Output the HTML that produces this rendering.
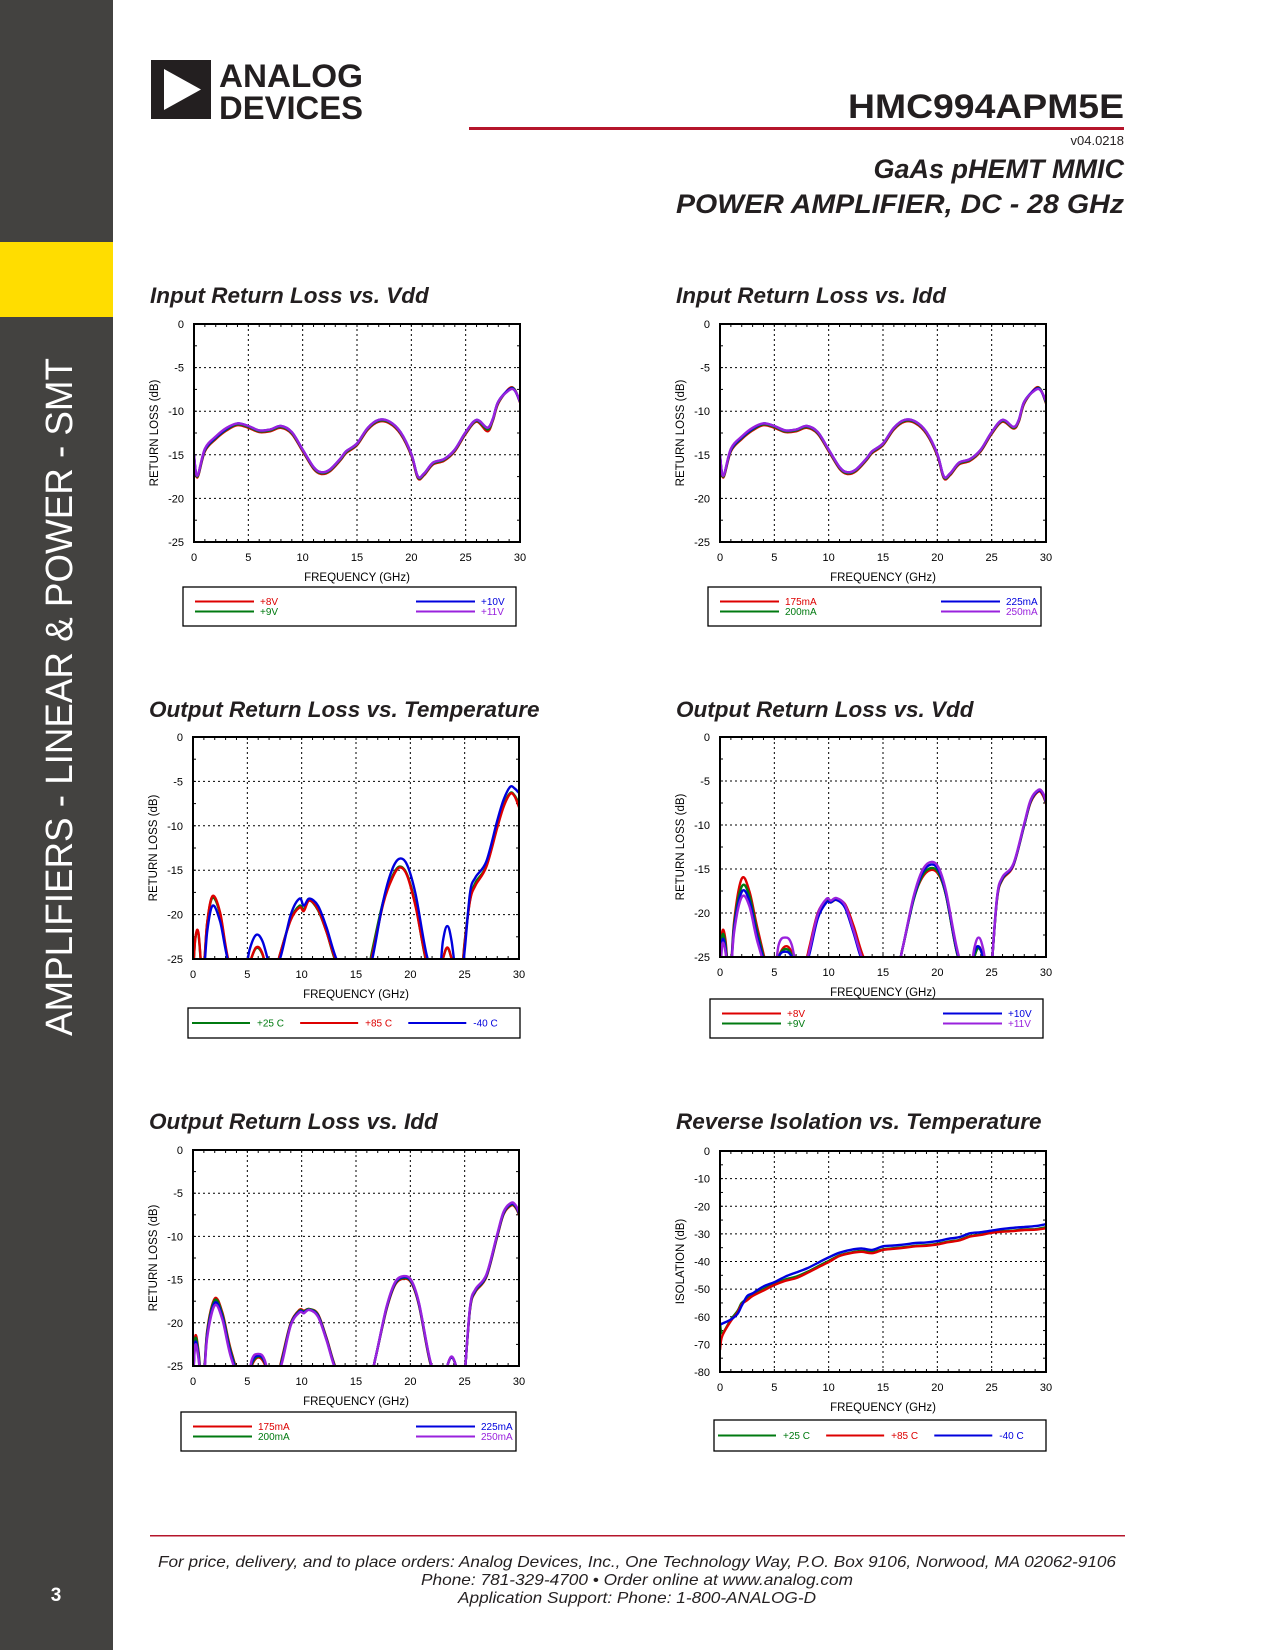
<!DOCTYPE html>
<html><head><meta charset="utf-8"><title>HMC994APM5E</title>
<style>
html,body{margin:0;padding:0;background:#fff;}
body{width:1275px;height:1650px;position:relative;overflow:hidden;font-family:"Liberation Sans",sans-serif;}
svg{position:absolute;left:0;top:0;}
</style></head>
<body>
<svg id="page" width="1275" height="1650" viewBox="0 0 1275 1650" xmlns="http://www.w3.org/2000/svg">
<rect x="0" y="0" width="113" height="1650" fill="#434240"/>
<rect x="0" y="242" width="113" height="75" fill="#ffdd00"/>
<text transform="translate(72,1036) rotate(-90)" font-family="Liberation Sans" font-size="38" fill="#fff" textLength="678" lengthAdjust="spacingAndGlyphs">AMPLIFIERS - LINEAR &amp; POWER - SMT</text>
<text x="56" y="1601" font-family="Liberation Sans" font-size="19" font-weight="bold" fill="#fff" text-anchor="middle">3</text>
<g>
<rect x="151" y="60" width="60" height="59" fill="#231f20"/>
<polygon points="164,69 164,110 201,89.5" fill="#fff"/>
<text x="219" y="87" font-family="Liberation Sans" font-weight="bold" font-size="32" fill="#231f20" textLength="144" lengthAdjust="spacingAndGlyphs">ANALOG</text>
<text x="219" y="119" font-family="Liberation Sans" font-weight="bold" font-size="32" fill="#231f20" textLength="144" lengthAdjust="spacingAndGlyphs">DEVICES</text>
</g>
<text x="1124" y="118" font-family="Liberation Sans" font-weight="bold" font-size="34" fill="#231f20" text-anchor="end" textLength="276" lengthAdjust="spacingAndGlyphs">HMC994APM5E</text>
<rect x="469" y="127" width="655" height="3" fill="#b5152b"/>
<text x="1124" y="145" font-family="Liberation Sans" font-size="13" fill="#231f20" text-anchor="end">v04.0218</text>
<text x="1124" y="178" font-family="Liberation Sans" font-weight="bold" font-style="italic" font-size="27" fill="#231f20" text-anchor="end">GaAs pHEMT MMIC</text>
<text x="1124" y="213" font-family="Liberation Sans" font-weight="bold" font-style="italic" font-size="27" fill="#231f20" text-anchor="end" textLength="448" lengthAdjust="spacingAndGlyphs">POWER AMPLIFIER, DC - 28 GHz</text>
<rect x="150" y="1535" width="975" height="1.5" fill="#b5152b"/>
<g font-family="Liberation Sans" font-style="italic" font-size="16" fill="#231f20" text-anchor="middle">
<text x="637" y="1567" textLength="958" lengthAdjust="spacingAndGlyphs">For price, delivery, and to place orders: Analog Devices, Inc., One Technology Way, P.O. Box 9106, Norwood, MA 02062-9106</text>
<text x="637" y="1585" textLength="432" lengthAdjust="spacingAndGlyphs">Phone: 781-329-4700 • Order online at www.analog.com</text>
<text x="637" y="1603" textLength="358" lengthAdjust="spacingAndGlyphs">Application Support: Phone: 1-800-ANALOG-D</text>
</g>
<g id="charts"></g>
</svg>
<script>
// ---- Chart data ----
const xTicks=[0,5,10,15,20,25,30];
const rlTicks=[0,-5,-10,-15,-20,-25];
const isoTicks=[0,-10,-20,-30,-40,-50,-60,-70,-80];

const irFreq=[0,0.3,1,2,3,4,5,6,7,8,9,10,11,11.7,12.5,13.5,14,15,16,17,18,19,20,20.6,21.2,22,23,24,25,26,27,27.5,28,29,29.5,30];
const irVdd8=[-15.2,-17.6,-14.6,-13.2,-12.2,-11.6,-11.9,-12.4,-12.3,-11.9,-12.6,-14.6,-16.6,-17.2,-16.9,-15.6,-14.8,-13.9,-12.1,-11.2,-11.4,-12.6,-15.1,-17.7,-17.3,-16.1,-15.7,-14.6,-12.6,-11.2,-12.3,-11.1,-9.1,-7.4,-7.5,-9.0];
const irVdd9=[-15.1,-17.5,-14.5,-13.1,-12.1,-11.5,-11.8,-12.3,-12.2,-11.8,-12.5,-14.5,-16.5,-17.1,-16.8,-15.5,-14.7,-13.8,-12.0,-11.1,-11.3,-12.5,-15.0,-17.6,-17.2,-16.0,-15.6,-14.5,-12.5,-11.1,-12.1,-11.0,-9.0,-7.5,-7.5,-8.9];
const irVdd10=[-15.0,-17.4,-14.4,-13.0,-12.0,-11.4,-11.7,-12.2,-12.1,-11.7,-12.4,-14.4,-16.4,-17.0,-16.7,-15.4,-14.6,-13.7,-11.9,-11.0,-11.2,-12.4,-14.9,-17.5,-17.1,-15.9,-15.5,-14.4,-12.4,-11.0,-11.9,-10.9,-8.9,-7.5,-7.6,-8.9];
const irVdd11=[-15.0,-17.4,-14.3,-12.9,-11.9,-11.4,-11.7,-12.2,-12.1,-11.7,-12.4,-14.4,-16.4,-17.0,-16.7,-15.4,-14.6,-13.7,-11.9,-11.0,-11.2,-12.4,-14.9,-17.5,-17.1,-15.9,-15.5,-14.4,-12.4,-11.0,-11.9,-10.9,-8.9,-7.6,-7.6,-8.8];

const irIdd175=[-15.2,-17.6,-14.6,-13.2,-12.2,-11.6,-11.9,-12.4,-12.3,-11.9,-12.6,-14.6,-16.6,-17.2,-16.9,-15.6,-14.8,-13.9,-12.1,-11.2,-11.4,-12.6,-15.1,-17.7,-17.3,-16.1,-15.7,-14.6,-12.6,-11.2,-12.0,-11.2,-9.1,-7.4,-7.5,-9.1];
const irIdd200=[-15.1,-17.5,-14.5,-13.1,-12.1,-11.5,-11.8,-12.3,-12.2,-11.8,-12.5,-14.5,-16.5,-17.1,-16.8,-15.5,-14.7,-13.8,-12.0,-11.1,-11.3,-12.5,-15.0,-17.6,-17.2,-16.0,-15.6,-14.5,-12.5,-11.1,-11.9,-11.1,-9.0,-7.5,-7.5,-9.0];
const irIdd225=[-15.0,-17.4,-14.4,-13.0,-12.0,-11.4,-11.7,-12.2,-12.1,-11.7,-12.4,-14.4,-16.4,-17.0,-16.7,-15.4,-14.6,-13.7,-11.9,-11.0,-11.2,-12.4,-14.9,-17.5,-17.1,-15.9,-15.5,-14.4,-12.4,-11.0,-11.8,-11.0,-8.9,-7.5,-7.6,-8.9];
const irIdd250=[-15.0,-17.4,-14.3,-12.9,-11.9,-11.4,-11.7,-12.2,-12.1,-11.7,-12.4,-14.4,-16.4,-17.0,-16.7,-15.4,-14.6,-13.7,-11.9,-11.0,-11.2,-12.4,-14.9,-17.5,-17.1,-15.9,-15.5,-14.4,-12.4,-11.0,-11.8,-11.0,-8.9,-7.6,-7.6,-8.8];

const orFreq=[0,0.2,0.5,0.9,1.3,1.8,2.5,3.3,4.5,5.2,5.8,6.4,7.2,8,9,9.8,10.2,10.7,11.5,12.3,13.2,14.5,15.8,16.5,17.5,18.3,19,19.7,20.5,21.5,22.5,23,23.4,23.8,24.5,25,25.5,26,27,28,28.6,29.2,29.6,30];
const orT25=[-27,-22.8,-22.2,-27,-21,-18.1,-20,-25.5,-28,-25.5,-23.8,-24.5,-28,-24.5,-20.5,-19,-19.4,-18.4,-19.5,-22,-25.5,-28,-28,-24,-18.5,-15.8,-14.6,-15.5,-19,-25.5,-28,-25,-23.8,-25,-29,-23,-18.3,-16.4,-14.5,-10,-7.6,-6.3,-6.6,-7.5];
const orT85=[-27,-22.8,-22.0,-27,-21,-17.9,-19.8,-25.3,-28,-25.5,-23.7,-24.4,-28,-24.5,-20.6,-19.2,-19.6,-18.4,-19.4,-22,-25.3,-28,-28,-24.5,-18.8,-16,-14.7,-15.6,-19.2,-25.3,-28,-25,-23.7,-25,-29,-23.2,-18.4,-16.7,-14.6,-10.2,-7.8,-6.4,-6.7,-7.9];
const orTm40=[-28,-26,-26,-28,-22,-19,-20.8,-25.5,-28,-24,-22.3,-23,-26,-25,-20,-18.2,-19,-18.2,-19,-21.5,-25,-28,-28,-25,-18.5,-15,-13.7,-14.4,-17.8,-24.5,-28,-23,-21.3,-23,-29,-24,-17.5,-15.8,-14,-9.4,-7,-5.6,-5.8,-6.3];

const ovFreq=[0,0.2,0.5,0.9,1.3,2,2.7,3.5,4.8,5.4,6,6.6,7.4,8.2,9,9.8,10.2,10.7,11.5,12.3,13.2,14.5,16,16.8,17.8,18.6,19.4,20.1,20.8,21.8,22.8,23.4,23.8,24.2,24.8,25,25.5,26,27,28,28.6,29.3,29.7,30];
const ovVdd8=[-27,-22.2,-23,-28,-21,-16.1,-17.5,-22,-28,-25,-23.8,-24.5,-28,-24,-20,-18.6,-18.8,-18.5,-19,-21.5,-25,-28,-28,-24,-18.5,-16,-15.1,-15.6,-18,-24.5,-28,-25,-23.8,-25,-28,-26,-18.4,-16.2,-14.6,-10,-7.4,-6.2,-6.6,-7.6];
const ovVdd9=[-27,-22.6,-23.5,-28,-21.4,-17,-18,-22.5,-28,-25,-24.1,-24.8,-28,-24.5,-20.3,-18.7,-18.8,-18.5,-19.3,-22,-25.5,-28,-28,-24,-18.6,-15.8,-14.9,-15.4,-18,-24.5,-28,-25,-24,-25,-28,-26,-18.3,-16.1,-14.5,-10,-7.3,-6.1,-6.4,-7.5];
const ovVdd10=[-28,-23.2,-24,-28,-21.8,-17.6,-18.6,-23,-28,-25,-24.4,-25,-28,-24.8,-20.6,-18.8,-18.8,-18.5,-19.4,-22.3,-25.8,-28,-28,-24,-18.4,-15.5,-14.5,-15.1,-17.8,-24.3,-28,-24.5,-23.8,-25,-28,-26,-18.2,-16,-14.5,-9.9,-7.2,-6.1,-6.4,-7.4];
const ovVdd11=[-28,-23.6,-24.4,-28,-22.2,-18.2,-19.2,-23.5,-28,-23.6,-22.8,-23.6,-28,-24.4,-20.1,-18.4,-18.6,-18.3,-19.1,-22,-25.5,-28,-28,-24,-18.2,-15.2,-14.2,-14.8,-17.5,-24,-28,-24,-22.8,-24,-28,-26,-18.1,-15.9,-14.4,-9.8,-7.1,-6.0,-6.3,-7.3];

const oiFreq=[0,0.2,0.5,0.9,1.3,2,2.7,3.5,4.8,5.4,6,6.6,7.4,8.2,9,9.8,10.2,10.7,11.5,12.3,13.2,14.5,16,16.8,17.8,18.6,19.4,20.1,20.8,21.8,22.8,23.4,23.8,24.2,24.8,25,25.5,26,27,28,28.6,29.3,29.7,30];
const oiIdd175=[-27,-21.6,-23.2,-28,-21,-17.2,-18.8,-23.2,-28,-25,-24,-24.8,-28,-24,-20,-18.5,-18.6,-18.4,-19,-21.8,-25.4,-28,-28,-24,-18.5,-15.6,-14.9,-15.4,-18,-24.5,-28,-25,-24,-25,-28,-26,-18.4,-16.4,-14.7,-10,-7.4,-6.4,-6.7,-7.5];
const oiIdd200=[-27,-21.9,-23.4,-28,-21.2,-17.4,-19,-23.4,-28,-24.8,-23.9,-24.6,-28,-24.2,-20.1,-18.6,-18.7,-18.4,-19.1,-21.9,-25.5,-28,-28,-24,-18.4,-15.5,-14.8,-15.3,-17.9,-24.4,-28,-25,-24,-25,-28,-26,-18.3,-16.3,-14.6,-9.9,-7.3,-6.3,-6.6,-7.4];
const oiIdd225=[-27,-22.3,-23.8,-28,-21.5,-17.7,-19.3,-23.7,-28,-24.6,-23.8,-24.5,-28,-24.4,-20.2,-18.7,-18.8,-18.5,-19.2,-22,-25.6,-28,-28,-24,-18.3,-15.4,-14.7,-15.2,-17.8,-24.3,-28,-25,-24,-25,-28,-26,-18.2,-16.2,-14.5,-9.8,-7.2,-6.2,-6.5,-7.3];
const oiIdd250=[-27,-22.6,-24.1,-28,-21.8,-18,-19.6,-24,-28,-24.3,-23.6,-24.3,-28,-24.6,-20.3,-18.8,-18.9,-18.5,-19.3,-22.1,-25.7,-28,-28,-24,-18.2,-15.3,-14.6,-15.1,-17.7,-24.2,-28,-25,-23.9,-25,-28,-26,-18.1,-16.1,-14.4,-9.7,-7.1,-6.1,-6.4,-7.2];

const isoFreq=[0,0.2,1,1.6,2,2.5,3,4,5,6,7,8,9,10,11,12,13,14,15,16,17,18,19,20,21,22,23,24,25,26,27,28,29,30];
const isoT25=[-62,-66,-61,-58,-55,-53.5,-52,-50,-48,-46.5,-45.5,-43.8,-41.8,-39.8,-37.8,-36.8,-36.2,-36.6,-35.6,-35.2,-34.8,-34.3,-34.1,-33.6,-32.8,-32.2,-30.8,-30.2,-29.5,-29,-28.8,-28.4,-28.3,-27.6];
const isoT85=[-72,-67,-61.5,-58.5,-55.5,-54,-52.5,-50.5,-48.5,-47,-46,-44.2,-42.2,-40.2,-38,-37,-36.5,-37,-35.8,-35.4,-35,-34.5,-34.3,-33.8,-33,-32.4,-31,-30.4,-29.6,-29.2,-29,-28.6,-28.5,-28];
const isoTm40=[-63,-62.5,-61,-59,-56,-52.5,-51.5,-49,-47.5,-45.5,-44,-42.5,-40.5,-38.5,-36.8,-35.8,-35.3,-35.8,-34.5,-34.2,-33.8,-33.3,-33.1,-32.6,-31.8,-31.2,-29.8,-29.4,-28.8,-28.2,-27.8,-27.5,-27.2,-26.5];

const C_RED="#dd0000",C_GRN="#007a10",C_BLU="#0000dd",C_PUR="#9922dd";

const NS="http://www.w3.org/2000/svg";
const root=document.getElementById('charts');
function mk(tag,attrs,parent){const e=document.createElementNS(NS,tag);for(const k in attrs)e.setAttribute(k,attrs[k]);(parent||root).appendChild(e);return e;}
function smoothPath(pts){
  let d="M"+pts[0][0].toFixed(1)+","+pts[0][1].toFixed(1);
  for(let i=0;i<pts.length-1;i++){
    const p0=pts[Math.max(0,i-1)],p1=pts[i],p2=pts[i+1],p3=pts[Math.min(pts.length-1,i+2)];
    const c1x=p1[0]+(p2[0]-p0[0])/6,c1y=p1[1]+(p2[1]-p0[1])/6;
    const c2x=p2[0]-(p3[0]-p1[0])/6,c2y=p2[1]-(p3[1]-p1[1])/6;
    d+=" C"+c1x.toFixed(1)+","+c1y.toFixed(1)+" "+c2x.toFixed(1)+","+c2y.toFixed(1)+" "+p2[0].toFixed(1)+","+p2[1].toFixed(1);
  }
  return d;
}
let clipId=0;
function chart(cfg){
  const g=mk('g',{});
  
  
  const {L,T,R,B,ymin,ymax}=cfg;
  const xs=v=>L+(v-0)/(30-0)*(R-L);
  const ys=v=>T+(ymax-v)/(ymax-ymin)*(B-T);
  const title=mk('text',{x:L-44,y:cfg.ty,'font-family':'Liberation Sans','font-weight':'bold','font-style':'italic','font-size':22.5,fill:'#231f20'},g);
  title.textContent=cfg.title;
  
  
  xTicks.forEach(t=>{ if(t>0&&t<30){const l=mk('line',{x1:xs(t),x2:xs(t),y1:T,y2:B,stroke:'#000','stroke-width':1,'stroke-dasharray':'2,3'},g);
    
    }
    const tx=mk('text',{x:xs(t),y:B+19,'font-family':'Liberation Sans','font-size':11,'text-anchor':'middle',fill:'#000'},g);
    tx.textContent=t;
    
    
  });
  for(let v=1;v<30;v++){ mk('line',{x1:xs(v),x2:xs(v),y1:B,y2:B-3,stroke:'#000','stroke-width':1},g); mk('line',{x1:xs(v),x2:xs(v),y1:T,y2:T+3,stroke:'#000','stroke-width':1},g);}
  const step=cfg.yTicks[0]-cfg.yTicks[1];
  for(let v=ymax-step/2;v>ymin;v-=step/2){ mk('line',{x1:L,x2:L+3,y1:ys(v),y2:ys(v),stroke:'#000','stroke-width':1},g); mk('line',{x1:R,x2:R-3,y1:ys(v),y2:ys(v),stroke:'#000','stroke-width':1},g);}
  cfg.yTicks.forEach(t=>{ if(t<ymax&&t>ymin){const l=mk('line',{x1:L,x2:R,y1:ys(t),y2:ys(t),stroke:'#000','stroke-width':1,'stroke-dasharray':'2,3'},g);
    
    }
    const tx=mk('text',{x:L-10,y:ys(t)+4,'font-family':'Liberation Sans','font-size':11,'text-anchor':'end',fill:'#000'},g);
    tx.textContent=t;
    
    
  });
  const xt=mk('text',{x:(L+R)/2,y:B+39,'font-family':'Liberation Sans','font-size':11.5,'text-anchor':'middle',fill:'#000'},g);
  xt.textContent='FREQUENCY (GHz)';
  
  
  const yt=mk('text',{transform:`translate(${L-36},${(T+B)/2}) rotate(-90)`,'font-family':'Liberation Sans','font-size':11.5,'text-anchor':'middle',fill:'#000'},g);
  yt.textContent=cfg.ytitle;
  
  
  const id='clip'+(clipId++);
  const cp=mk('clipPath',{id:id},g);
  mk('rect',{x:L,y:T,width:R-L,height:B-T},cp);
  const sg=mk('g',{'clip-path':`url(#${id})`},g);
  cfg.series.forEach(s=>{
    const pts=cfg.freq.map((f,i)=>[xs(f),ys(s.vals[i])]);
    const p=mk('path',{d:smoothPath(pts),fill:'none',stroke:s.color,'stroke-width':2.4,'stroke-linejoin':'round'},sg);
    
    
  });
  const fr=mk('rect',{x:L,y:T,width:R-L,height:B-T,fill:'none',stroke:'#000','stroke-width':2},g);
  
  
  const lg=cfg.leg;
  const lgg=mk('g',{},g);
  
  
  mk('rect',{x:lg.x1,y:lg.y1,width:lg.x2-lg.x1,height:lg.y2-lg.y1,fill:'#fff',stroke:'#000','stroke-width':1.3},lgg);
  if(cfg.series.length===4){
    const cy=(lg.y1+lg.y2)/2;
    cfg.series.forEach((s,i)=>{
      const right=i>=2, row=i%2;
      const y=cy-5+row*10;
      const lx=right? lg.x2-100 : lg.x1+12;
      const e=mk('g',{},lgg);
      
      
      mk('line',{x1:lx,x2:lx+59,y1:y,y2:y,stroke:s.color,'stroke-width':2},e);
      const t=mk('text',{x:lx+65,y:y+3.5,'font-family':'Liberation Sans','font-size':10,fill:s.color},e);
      t.textContent=s.label;
    });
  } else {
    const cy=(lg.y1+lg.y2)/2, w=lg.x2-lg.x1;
    cfg.series.forEach((s,i)=>{
      const lx=lg.x1+4+i*w/3.07;
      const e=mk('g',{},lgg);
      
      
      mk('line',{x1:lx,x2:lx+58,y1:cy,y2:cy,stroke:s.color,'stroke-width':2},e);
      const t=mk('text',{x:lx+65,y:cy+3.5,'font-family':'Liberation Sans','font-size':10,fill:s.color},e);
      t.textContent=s.label;
    });
  }
}
chart({name:'chart-input-rl-vs-vdd',title:'Input Return Loss vs. Vdd',ty:303,L:194,T:324,R:520,B:542,ymin:-25,ymax:0,yTicks:rlTicks,ytitle:'RETURN LOSS (dB)',freq:irFreq,
  series:[{key:'8v',label:'+8V',color:C_RED,vals:irVdd8},{key:'9v',label:'+9V',color:C_GRN,vals:irVdd9},{key:'10v',label:'+10V',color:C_BLU,vals:irVdd10},{key:'11v',label:'+11V',color:C_PUR,vals:irVdd11}],
  leg:{x1:183,y1:587,x2:516,y2:626}});
chart({name:'chart-input-rl-vs-idd',title:'Input Return Loss vs. Idd',ty:303,L:720,T:324,R:1046,B:542,ymin:-25,ymax:0,yTicks:rlTicks,ytitle:'RETURN LOSS (dB)',freq:irFreq,
  series:[{key:'175ma',label:'175mA',color:C_RED,vals:irIdd175},{key:'200ma',label:'200mA',color:C_GRN,vals:irIdd200},{key:'225ma',label:'225mA',color:C_BLU,vals:irIdd225},{key:'250ma',label:'250mA',color:C_PUR,vals:irIdd250}],
  leg:{x1:708,y1:587,x2:1041,y2:626}});
chart({name:'chart-output-rl-vs-temp',title:'Output Return Loss vs. Temperature',ty:717,L:193,T:737,R:519,B:959,ymin:-25,ymax:0,yTicks:rlTicks,ytitle:'RETURN LOSS (dB)',freq:orFreq,
  series:[{key:'25c',label:'+25 C',color:C_GRN,vals:orT25},{key:'85c',label:'+85 C',color:C_RED,vals:orT85},{key:'m40c',label:'-40 C',color:C_BLU,vals:orTm40}],
  leg:{x1:188,y1:1008,x2:520,y2:1038}});
chart({name:'chart-output-rl-vs-vdd',title:'Output Return Loss vs. Vdd',ty:717,L:720,T:737,R:1046,B:957,ymin:-25,ymax:0,yTicks:rlTicks,ytitle:'RETURN LOSS (dB)',freq:ovFreq,
  series:[{key:'8v',label:'+8V',color:C_RED,vals:ovVdd8},{key:'9v',label:'+9V',color:C_GRN,vals:ovVdd9},{key:'10v',label:'+10V',color:C_BLU,vals:ovVdd10},{key:'11v',label:'+11V',color:C_PUR,vals:ovVdd11}],
  leg:{x1:710,y1:999,x2:1043,y2:1038}});
chart({name:'chart-output-rl-vs-idd',title:'Output Return Loss vs. Idd',ty:1129,L:193,T:1150,R:519,B:1366,ymin:-25,ymax:0,yTicks:rlTicks,ytitle:'RETURN LOSS (dB)',freq:oiFreq,
  series:[{key:'175ma',label:'175mA',color:C_RED,vals:oiIdd175},{key:'200ma',label:'200mA',color:C_GRN,vals:oiIdd200},{key:'225ma',label:'225mA',color:C_BLU,vals:oiIdd225},{key:'250ma',label:'250mA',color:C_PUR,vals:oiIdd250}],
  leg:{x1:181,y1:1412,x2:516,y2:1451}});
chart({name:'chart-reverse-isolation-vs-temp',title:'Reverse Isolation vs. Temperature',ty:1129,L:720,T:1151,R:1046,B:1372,ymin:-80,ymax:0,yTicks:isoTicks,ytitle:'ISOLATION (dB)',freq:isoFreq,
  series:[{key:'25c',label:'+25 C',color:C_GRN,vals:isoT25},{key:'85c',label:'+85 C',color:C_RED,vals:isoT85},{key:'m40c',label:'-40 C',color:C_BLU,vals:isoTm40}],
  leg:{x1:714,y1:1420,x2:1046,y2:1451}});
</script>
</body></html>
